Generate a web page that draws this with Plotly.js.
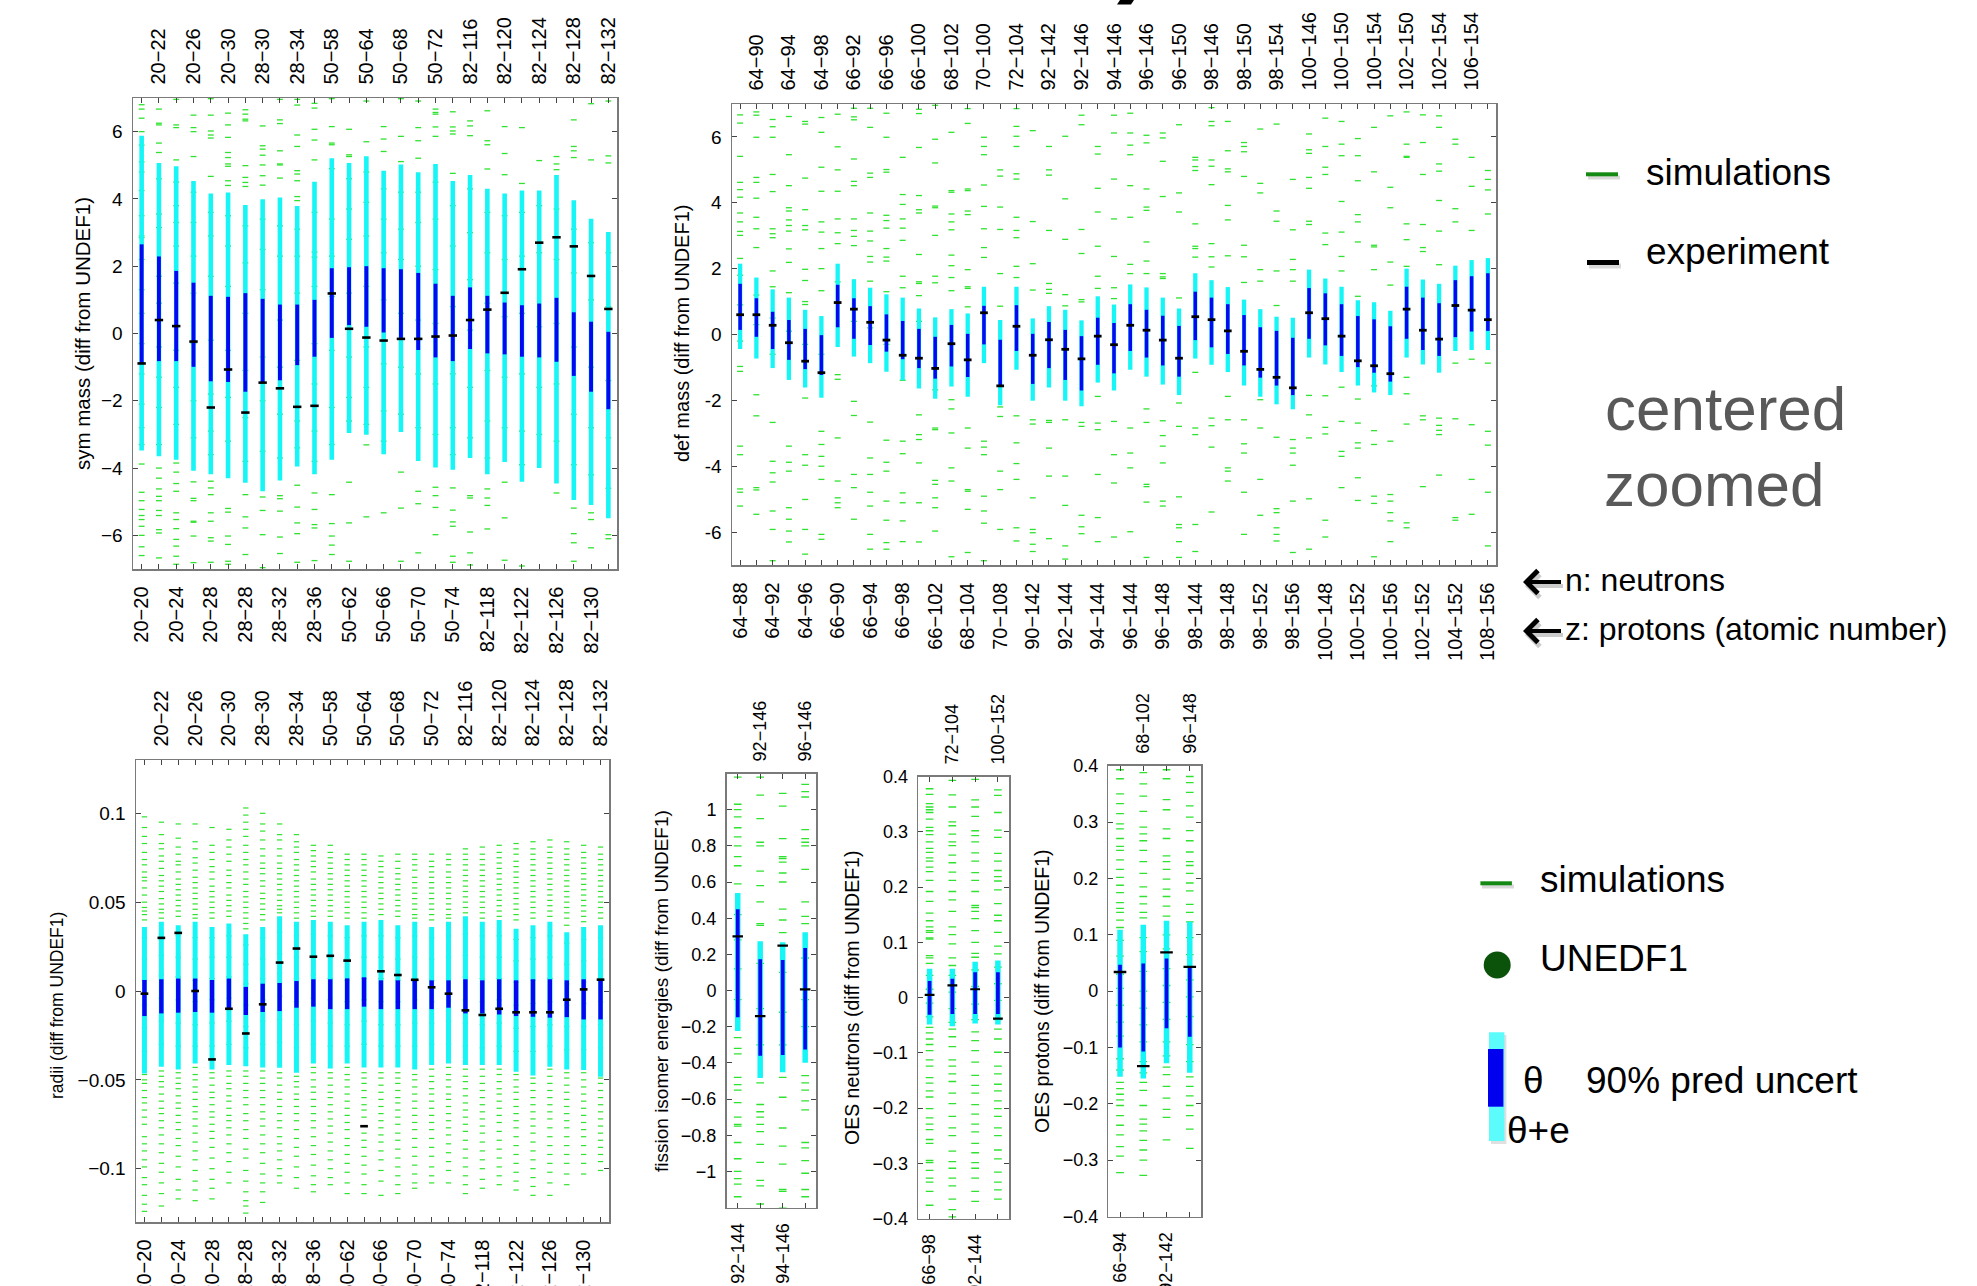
<!DOCTYPE html>
<html><head><meta charset="utf-8">
<script src="https://cdn.plot.ly/plotly-3.0.1.min.js"></script>
<style>html,body{margin:0;padding:0;background:#fff}#chart{width:1977px;height:1286px}</style>
</head><body><div id="chart"></div>
<script>
const W = 1977, H = 1286;
const FONT = 'Liberation Sans, Arial, Helvetica, sans-serif';

// ---------- sym mass (top left) ----------
const symLabels = ['20−20','20−22','20−24','20−26','20−28','20−30','28−28','28−30','28−32','28−34','28−36','50−58','50−62','50−64','50−66','50−68','50−70','50−72','50−74','82−116','82−118','82−120','82−122','82−124','82−126','82−128','82−130','82−132'];
const symCyanHi = [5.88,5.07,4.97,4.53,4.16,4.19,3.82,3.99,4.04,3.79,4.51,5.21,5.07,5.27,4.84,5.02,4.79,5.04,4.53,4.71,4.30,4.16,4.25,4.25,4.71,3.96,3.41,3.02];
const symBlueHi = [2.65,2.29,1.86,1.51,1.12,1.09,1.20,1.03,0.86,0.86,1.00,1.94,1.97,2.00,1.94,1.91,1.80,1.48,1.12,1.37,1.12,0.92,0.84,0.89,1.06,0.63,0.35,0.05];
const symBlueLo = [-0.91,-0.82,-0.82,-0.99,-1.42,-1.44,-1.73,-1.46,-1.39,-0.94,-0.69,-0.13,0.25,0.20,0.03,-0.13,-0.49,-0.71,-0.82,-0.46,-0.59,-0.62,-0.69,-0.71,-0.84,-1.26,-1.73,-2.25];
const symCyanLo = [-3.48,-3.65,-3.75,-4.08,-4.18,-4.30,-4.44,-4.69,-4.37,-3.95,-4.18,-3.75,-2.96,-3.01,-3.59,-2.93,-3.79,-3.98,-4.05,-3.70,-4.18,-3.82,-4.41,-4.00,-4.46,-4.95,-5.10,-5.49];
const symExp = [-0.89,0.40,0.22,-0.24,-2.20,-1.07,-2.35,-1.46,-1.63,-2.18,-2.15,1.19,0.14,-0.12,-0.21,-0.16,-0.16,-0.09,-0.06,0.40,0.71,1.21,1.91,2.70,2.86,2.59,1.71,0.73];
const symSims = [
 [6.80,6.67,6.40,6.00,5.60,5.10,4.80,4.25,3.50,2.90,2.85,2.20,1.30,0.60,-0.30,-1.20,-2.10,-2.80,-3.30,-3.88,-4.72,-4.97,-5.23,-5.41,-5.53,-5.73,-6.00,-6.34,-6.60],
 [6.67,6.25,6.20,5.66,5.38,4.60,3.55,3.15,1.70,0.90,-0.40,-1.30,-2.20,-3.30,-4.00,-4.30,-4.62,-4.84,-4.97,-5.26,-5.41,-5.83,-5.93,-6.67],
 [6.96,6.20,6.12,5.16,4.50,3.80,3.30,2.60,1.50,-0.50,-1.60,-2.70,-3.85,-4.12,-4.46,-4.69,-5.33,-5.53,-5.80,-6.12,-6.32,-6.62,-6.86],
 [6.49,6.12,6.00,5.26,4.20,3.30,2.30,1.20,-0.30,-2.00,-3.10,-4.41,-4.90,-4.97,-5.58,-5.61,-6.02,-6.81],
 [6.98,6.49,6.02,5.90,5.81,4.67,3.60,2.90,1.70,-0.20,-1.80,-2.90,-3.60,-4.39,-4.59,-4.79,-5.33,-5.58,-6.07,-6.17,-6.80],
 [6.55,6.20,5.83,5.38,5.23,5.04,4.97,4.54,4.40,3.50,2.60,1.40,-0.50,-1.90,-3.20,-5.20,-5.31,-6.02,-6.27,-6.77,-6.86],
 [6.65,6.52,6.37,6.32,4.99,4.64,4.49,4.37,3.20,2.10,0.60,-1.10,-2.50,-3.80,-4.79,-5.45,-5.78,-6.57],
 [6.17,5.58,5.48,5.30,5.01,4.69,4.41,3.40,2.50,1.30,-0.70,-2.00,-3.50,-4.86,-5.26,-5.98,-6.96],
 [6.96,6.35,6.24,5.43,5.04,5.01,4.62,3.20,2.30,0.40,-1.00,-2.40,-3.70,-4.82,-4.91,-5.28,-6.05,-6.54],
 [6.96,6.79,5.90,5.56,4.84,4.74,4.54,4.07,3.95,3.10,2.30,1.20,-0.80,-2.60,-3.40,-4.51,-5.16,-5.63,-5.95,-6.80],
 [6.84,6.70,6.07,5.75,5.16,3.60,2.42,2.27,1.40,-0.30,-1.50,-2.90,-3.80,-4.74,-5.23,-5.68,-5.78,-6.75],
 [6.98,6.15,5.66,5.61,4.90,3.40,2.30,1.10,-0.50,-2.20,-3.30,-4.79,-5.65,-6.02,-6.29,-6.57],
 [6.07,5.31,5.26,4.60,3.70,2.80,1.20,-0.70,-1.90,-2.60,-4.42,-5.63,-6.77],
 [6.91,5.70,4.80,3.90,2.90,1.40,-0.40,-1.60,-2.70,-3.31,-5.45],
 [6.15,5.78,5.41,4.30,3.40,2.40,1.00,-0.90,-2.30,-3.20,-5.33],
 [6.98,5.86,5.11,4.20,3.10,2.20,0.60,-1.00,-2.40,-4.12,-5.19,-6.77],
 [6.91,6.12,5.73,5.21,4.20,3.30,2.00,0.40,-1.20,-2.80,-4.69,-5.06,-6.52],
 [6.67,6.57,6.52,6.14,5.86,4.50,3.40,1.90,0.30,-1.50,-3.00,-4.57,-4.82,-5.17,-5.98],
 [6.59,6.14,6.02,5.93,4.76,3.80,2.60,0.80,-1.20,-2.80,-3.60,-4.59,-5.25,-5.60,-5.73,-6.62,-6.80],
 [6.32,6.17,5.88,4.30,3.00,1.60,0.10,-1.60,-3.10,-4.82,-4.89,-5.90,-6.52,-6.88],
 [6.62,5.73,5.61,4.89,3.60,2.40,0.90,-1.10,-2.60,-3.70,-4.62,-4.89,-5.11,-5.81],
 [6.15,5.35,4.72,3.50,2.20,0.50,-1.30,-2.80,-4.42,-5.48,-6.74],
 [6.12,4.46,3.60,2.30,0.60,-1.20,-2.90,-3.90,-6.91],
 [5.14,3.80,2.40,0.20,-1.60,-3.00],
 [5.26,5.04,4.87,3.70,2.20,0.30,-1.50,-3.20,-4.74],
 [6.35,5.56,5.43,5.23,3.10,1.80,-0.40,-2.40,-3.90,-5.19,-5.95,-6.22,-6.77],
 [6.83,5.16,2.70,1.00,-1.00,-2.80,-4.20,-5.33,-5.53,-6.37],
 [6.91,5.28,5.07,2.40,0.80,-1.40,-3.10,-4.60,-5.98,-6.10]
];

// ---------- def mass (top middle) ----------
const defLabels = ['64−88','64−90','64−92','64−94','64−96','64−98','66−90','66−92','66−94','66−96','66−98','66−100','66−102','68−102','68−104','70−100','70−108','72−104','90−142','92−142','92−144','92−146','94−144','94−146','96−144','96−146','96−148','96−150','98−144','98−146','98−148','98−150','98−152','98−154','98−156','100−146','100−148','100−150','100−152','100−154','100−156','102−150','102−152','102−154','104−152','106−154','108−156'];
const defCyanHi = [2.15,1.73,1.37,1.12,0.75,0.56,2.15,1.68,1.42,1.22,1.12,0.79,0.52,0.77,0.64,1.45,0.44,1.45,0.49,0.86,0.75,0.43,1.16,0.91,1.52,1.43,1.12,0.79,1.86,1.65,1.44,1.06,0.77,0.54,0.51,1.97,1.70,1.45,1.04,0.98,0.72,2.00,1.67,1.54,2.09,2.26,2.32];
const defBlueHi = [1.54,1.10,0.69,0.44,0.17,-0.02,1.51,1.10,0.86,0.61,0.41,0.17,-0.07,0.29,0.02,0.87,-0.16,0.89,0.02,0.38,0.14,-0.05,0.51,0.35,0.92,0.75,0.57,0.26,1.30,1.12,0.92,0.59,0.22,0.11,-0.10,1.41,1.25,0.92,0.56,0.46,0.25,1.45,1.12,0.95,1.65,1.77,1.86];
const defBlueLo = [0.14,-0.07,-0.44,-0.77,-1.05,-1.23,0.22,-0.13,-0.32,-0.52,-0.75,-1.02,-1.34,-0.97,-1.29,-0.30,-1.58,-0.50,-1.50,-1.02,-1.38,-1.70,-0.92,-1.18,-0.50,-0.70,-0.94,-1.28,-0.17,-0.39,-0.59,-0.94,-1.31,-1.55,-1.84,-0.13,-0.33,-0.65,-0.99,-1.16,-1.43,-0.13,-0.47,-0.65,-0.08,0.09,0.11];
const defCyanLo = [-0.44,-0.73,-1.02,-1.38,-1.61,-1.92,-0.38,-0.67,-0.87,-1.13,-1.39,-1.64,-1.95,-1.58,-1.89,-0.87,-2.15,-1.07,-2.01,-1.61,-2.01,-2.18,-1.46,-1.70,-1.07,-1.28,-1.52,-1.84,-0.73,-0.92,-1.14,-1.55,-1.89,-2.12,-2.27,-0.70,-0.91,-1.14,-1.55,-1.76,-1.84,-0.70,-0.91,-1.16,-0.50,-0.47,-0.47];
const defExp = [0.60,0.60,0.28,-0.25,-0.81,-1.16,0.97,0.77,0.37,-0.17,-0.63,-0.72,-1.03,-0.28,-0.77,0.66,-1.56,0.25,-0.63,-0.16,-0.45,-0.74,-0.05,-0.31,0.28,0.13,-0.17,-0.72,0.54,0.45,0.11,-0.51,-1.06,-1.30,-1.62,0.66,0.48,-0.05,-0.80,-0.95,-1.19,0.77,0.13,-0.14,0.88,0.74,0.45];
const defSims = [
 [6.67,6.42,5.41,4.62,4.40,4.17,3.69,3.42,3.13,3.01,2.31,1.80,0.90,-0.20,-0.97,-1.12,-3.39,-3.65,-4.69,-4.79,-5.21],
 [6.76,6.66,5.99,4.77,4.62,4.14,3.56,3.21,2.64,1.20,0.30,-1.83,-2.47,-4.65,-4.72,-5.46],
 [6.53,6.31,5.99,4.86,4.34,3.21,3.06,2.94,1.93,1.45,0.50,-0.60,-2.67,-3.85,-4.20,-4.48,-5.36,-5.92,-6.87],
 [6.62,5.46,4.52,3.85,3.75,3.48,3.31,3.14,2.60,2.19,1.27,0.10,-3.39,-3.88,-4.15,-5.26,-5.61,-5.97,-6.30],
 [6.47,6.39,4.75,3.79,3.31,3.18,1.98,1.64,1.00,0.91,-0.30,-1.93,-3.65,-3.97,-5.01,-5.92,-6.67],
 [6.59,6.14,5.08,4.35,3.42,3.11,2.61,2.00,1.33,-0.60,-2.94,-3.34,-3.70,-4.00,-4.40,-6.07,-6.22],
 [6.69,5.70,5.00,4.35,3.51,3.09,2.76,1.60,-1.22,-1.36,-3.14,-4.45,-4.96,-5.11,-5.26],
 [6.87,6.61,6.52,5.33,4.65,4.52,3.51,3.16,2.98,2.70,0.40,-2.03,-2.46,-4.25,-4.65,-5.61],
 [6.87,6.29,4.90,4.77,3.69,3.14,2.84,2.37,2.20,1.62,0.20,-2.66,-3.75,-4.25,-4.79,-5.21,-6.07,-6.52],
 [6.72,5.99,5.01,4.93,3.62,3.46,3.23,2.61,2.35,2.23,1.30,-0.30,-3.21,-3.88,-4.15,-5.06,-5.64,-6.32,-6.52],
 [5.38,4.25,3.95,3.51,3.23,2.86,1.77,1.42,-1.39,-3.24,-3.62,-4.81,-5.11,-5.66,-6.29],
 [6.84,6.71,5.68,4.22,3.79,3.69,2.43,1.60,1.55,1.18,0.40,-2.44,-3.04,-3.19,-3.90,-5.11,-6.30],
 [6.96,5.93,5.21,3.90,3.85,3.01,1.77,1.57,-1.68,-2.84,-2.89,-4.43,-4.55,-4.96,-5.26,-5.97],
 [6.14,4.37,4.32,3.66,3.42,3.18,2.41,2.09,1.73,1.33,-1.98,-2.26,-2.99,-4.05,-4.45,-6.75],
 [6.86,6.41,4.42,4.37,3.75,3.64,1.97,1.45,1.40,0.84,-2.84,-3.45,-4.71,-4.76,-5.31,-6.62],
 [5.99,5.71,5.46,4.54,3.89,3.21,2.64,2.34,-3.24,-3.42,-3.65,-4.91,-5.36,-5.73,-6.87],
 [5.00,4.81,3.87,3.19,1.85,0.86,-2.20,-2.49,-4.15,-4.71,-5.92],
 [6.86,6.32,6.02,5.71,4.88,4.72,3.56,3.16,2.94,2.07,1.73,-2.47,-3.29,-3.92,-4.40,-5.87,-6.27],
 [6.19,3.43,2.15,1.35,-2.59,-2.72,-4.96,-5.92,-6.02,-6.37,-6.59],
 [5.71,5.00,4.84,3.16,1.55,1.37,1.25,-2.61,-2.67,-3.45,-4.30,-6.20],
 [6.02,4.12,2.89,1.21,0.87,-2.59,-4.30,-5.19,-6.42,-6.82],
 [6.66,6.37,3.19,2.46,1.06,0.99,-2.67,-2.79,-5.49,-5.84,-6.05],
 [5.71,5.48,4.44,3.72,2.68,1.77,1.40,-1.88,-2.69,-2.89,-4.25,-5.56,-6.29],
 [6.66,6.12,4.72,3.51,2.37,1.42,1.09,-2.64,-3.65,-4.51,-6.15],
 [6.72,6.12,5.75,5.46,4.52,3.56,2.13,1.85,-2.84,-3.60,-4.05,-5.99],
 [6.05,5.82,4.42,3.87,3.77,2.81,2.23,1.85,-2.26,-2.67,-4.55,-4.62,-5.09,-6.77],
 [6.12,5.97,5.26,4.19,1.85,1.75,1.70,-2.62,-3.07,-3.39,-3.90,-5.06,-5.21],
 [6.37,4.30,3.72,1.11,-2.08,-2.79,-4.93,-5.77,-5.87,-6.29,-6.77],
 [5.38,5.30,5.10,4.98,3.36,2.68,2.61,2.35,-1.15,-2.84,-3.04,-5.77,-6.59],
 [6.89,6.47,6.34,5.30,5.11,4.55,2.76,2.36,2.05,-2.54,-2.77,-3.42,-5.39],
 [6.47,5.58,5.03,4.94,3.92,3.48,2.39,-1.88,-2.59,-4.05,-4.15,-4.45],
 [5.83,5.71,5.55,4.80,2.71,2.36,1.58,-2.59,-3.32,-3.60,-4.79,-6.07],
 [6.24,4.59,4.30,1.97,1.62,-1.98,-2.84,-4.40,-5.49],
 [6.39,3.75,3.44,1.93,0.88,-3.12,-5.29,-5.41,-5.87,-6.07,-6.27],
 [4.71,3.18,2.28,1.97,1.62,-3.19,-3.45,-3.60,-3.97,-5.06,-6.62],
 [6.09,5.61,5.50,4.77,4.44,3.44,3.34,-1.85,-2.44,-3.14,-4.99,-6.52],
 [6.57,5.71,5.08,4.86,3.08,2.73,-1.86,-2.82,-3.02,-5.64,-6.15],
 [6.47,5.78,5.43,4.04,3.11,2.37,1.93,-1.60,-2.64,-3.55,-3.70,-4.65],
 [5.95,5.43,4.67,3.64,3.42,2.81,1.16,-1.96,-2.69,-3.29,-3.45,-4.35,-5.04],
 [6.29,4.94,2.71,2.66,1.97,-1.56,-2.92,-3.34,-4.91,-5.13,-6.75],
 [6.64,4.47,3.85,2.20,1.50,-3.24,-4.86,-5.06,-5.41,-5.66,-6.29],
 [6.76,5.78,5.41,5.38,3.36,2.88,2.07,-1.30,-1.80,-2.72,-5.72,-5.87],
 [6.67,5.83,4.86,3.34,2.64,2.52,-2.47,-2.59,-4.62],
 [6.64,6.29,5.18,4.96,4.07,3.14,2.12,-2.54,-2.76,-2.91,-3.04,-4.27],
 [5.93,5.78,3.82,3.42,-0.87,-2.56,-5.56,-5.64],
 [5.38,4.50,3.16,-0.75,-2.74,-4.40,-5.46],
 [4.98,4.71,4.39,3.66,-0.87,-2.94,-3.36,-4.79,-6.42]
];

// ---------- radii (bottom left) ----------
const radLabels = symLabels.slice();
const radCyanHi = [0.036,0.039,0.037,0.039,0.036,0.038,0.032,0.036,0.042,0.039,0.040,0.039,0.037,0.039,0.040,0.037,0.039,0.036,0.039,0.042,0.039,0.040,0.035,0.037,0.039,0.033,0.036,0.037];
const radBlueHi = [0.0062,0.0066,0.0070,0.0070,0.0062,0.0070,0.0023,0.0041,0.0045,0.0056,0.0066,0.0066,0.0071,0.0077,0.0060,0.0060,0.0066,0.0060,0.0060,0.0066,0.0060,0.0066,0.0060,0.0066,0.0066,0.0060,0.0066,0.0066];
const radBlueLo = [-0.0141,-0.0126,-0.0122,-0.0118,-0.0122,-0.0103,-0.0135,-0.0118,-0.0113,-0.0094,-0.0088,-0.0102,-0.0102,-0.0088,-0.0102,-0.0102,-0.0102,-0.0102,-0.0094,-0.0126,-0.0126,-0.0132,-0.0141,-0.0145,-0.0150,-0.0147,-0.0160,-0.0160];
const radCyanLo = [-0.0464,-0.0427,-0.0442,-0.0408,-0.0442,-0.0417,-0.0423,-0.0430,-0.0432,-0.0460,-0.0408,-0.0436,-0.0408,-0.0430,-0.0430,-0.0430,-0.0442,-0.0417,-0.0408,-0.0417,-0.0417,-0.0417,-0.0455,-0.0476,-0.0427,-0.0442,-0.0445,-0.0483];
const radExp = [-0.0015,0.0299,0.0327,0.0000,-0.0385,-0.0100,-0.0239,-0.0075,0.0160,0.0239,0.0193,0.0198,0.0171,-0.0761,0.0111,0.0090,0.0063,0.0021,-0.0015,-0.0109,-0.0135,-0.0100,-0.0120,-0.0120,-0.0120,-0.0049,0.0009,0.0064];
const radSims = [
 [.098,.092,.087,.083,.078,.074,.071,.067,.064,.062,.058,.054,.050,.047,.045,.043,.040,.030,.018,.006,-.008,-.021,-.034,-.047,-.050,-.052,-.056,-.060,-.063,-.067,-.071,-.075,-.082,-.086,-.090,-.095,-.099,-.105,-.109,-.115,-.120,-.124],
 [.095,.088,.083,.080,.076,.073,.069,.065,.062,.059,.056,.052,.049,.046,.044,.041,.032,.020,.009,-.004,-.017,-.030,-.045,-.048,-.051,-.054,-.058,-.062,-.066,-.069,-.073,-.077,-.081,-.086,-.091,-.097,-.102,-.108,-.114,-.121],
 [.094,.086,.081,.077,.073,.071,.067,.063,.060,.057,.054,.051,.048,.045,.042,.031,.019,.008,-.005,-.018,-.031,-.046,-.049,-.052,-.055,-.059,-.063,-.066,-.070,-.074,-.078,-.083,-.087,-.093,-.099,-.106,-.112,-.117],
 [.094,.084,.080,.075,.072,.068,.064,.061,.058,.055,.052,.049,.046,.043,.041,.030,.018,.006,-.006,-.019,-.031,-.043,-.047,-.050,-.054,-.057,-.061,-.065,-.068,-.072,-.076,-.080,-.085,-.090,-.095,-.101,-.107,-.112,-.118],
 [.092,.082,.078,.074,.070,.067,.063,.059,.056,.053,.050,.047,.044,.041,.030,.019,.007,-.005,-.018,-.031,-.046,-.049,-.053,-.057,-.060,-.064,-.068,-.071,-.075,-.079,-.083,-.088,-.094,-.100,-.106,-.111,-.117],
 [.091,.085,.081,.077,.073,.068,.065,.061,.058,.054,.051,.048,.045,.042,.031,.019,.008,-.004,-.017,-.030,-.045,-.048,-.052,-.055,-.059,-.062,-.066,-.070,-.073,-.077,-.081,-.086,-.091,-.096,-.102,-.108],
 [.103,.099,.095,.091,.087,.082,.078,.074,.071,.067,.063,.060,.056,.053,.050,.047,.044,.041,.038,.035,.026,.015,.004,-.008,-.020,-.032,-.045,-.048,-.052,-.056,-.060,-.064,-.069,-.073,-.078,-.083,-.089,-.094,-.101,-.107,-.113,-.118,-.121,-.125],
 [.100,.094,.090,.085,.080,.076,.072,.069,.066,.062,.059,.055,.052,.049,.046,.043,.040,.030,.018,.007,-.005,-.017,-.030,-.045,-.049,-.052,-.056,-.060,-.064,-.068,-.072,-.076,-.081,-.086,-.091,-.097,-.103,-.108,-.113,-.119],
 [.094,.088,.085,.080,.076,.072,.069,.066,.063,.060,.057,.054,.051,.048,.046,.044,.033,.021,.010,-.003,-.016,-.029,-.046,-.049,-.053,-.057,-.061,-.065,-.069,-.073,-.077,-.082,-.086,-.090,-.095,-.100,-.104,-.108],
 [.088,.084,.081,.078,.074,.071,.068,.065,.062,.059,.056,.053,.050,.047,.044,.041,.031,.019,.007,-.006,-.019,-.032,-.048,-.051,-.054,-.058,-.061,-.065,-.069,-.073,-.078,-.083,-.088,-.093,-.099,-.105,-.111],
 [.082,.079,.076,.073,.070,.067,.063,.060,.057,.054,.051,.048,.045,.042,.032,.020,.009,-.004,-.017,-.030,-.043,-.046,-.050,-.054,-.057,-.061,-.065,-.069,-.073,-.077,-.082,-.087,-.092,-.098,-.104,-.109,-.113],
 [.082,.078,.075,.072,.069,.066,.063,.060,.057,.054,.051,.048,.045,.042,.031,.019,.007,-.005,-.018,-.031,-.046,-.049,-.053,-.057,-.060,-.064,-.068,-.072,-.076,-.080,-.085,-.090,-.095,-.100,-.105,-.109],
 [.077,.074,.071,.068,.065,.062,.059,.056,.053,.050,.047,.044,.041,.030,.018,.006,-.006,-.019,-.031,-.043,-.047,-.050,-.054,-.058,-.062,-.066,-.070,-.074,-.078,-.083,-.087,-.092,-.097,-.102,-.108,-.114],
 [.077,.074,.071,.068,.065,.062,.059,.056,.053,.050,.047,.044,.041,.031,.019,.007,-.005,-.017,-.030,-.046,-.049,-.052,-.056,-.060,-.064,-.067,-.071,-.076,-.080,-.084,-.088,-.093,-.098,-.103,-.109,-.114],
 [.076,.073,.070,.067,.064,.061,.058,.055,.052,.049,.046,.043,.031,.019,.007,-.006,-.019,-.031,-.046,-.049,-.053,-.057,-.061,-.065,-.069,-.073,-.077,-.081,-.085,-.090,-.095,-.101,-.107,-.115],
 [.077,.073,.069,.066,.063,.060,.057,.054,.051,.048,.045,.042,.030,.018,.006,-.006,-.019,-.031,-.046,-.049,-.052,-.056,-.060,-.063,-.067,-.071,-.075,-.080,-.084,-.089,-.094,-.099,-.104,-.109,-.114],
 [.077,.074,.071,.068,.064,.061,.058,.055,.052,.049,.046,.043,.041,.031,.019,.007,-.005,-.018,-.031,-.047,-.050,-.054,-.058,-.062,-.066,-.070,-.074,-.078,-.083,-.088,-.093,-.098,-.103,-.108,-.111],
 [.077,.073,.070,.067,.064,.061,.058,.055,.052,.049,.046,.043,.040,.030,.018,.006,-.006,-.018,-.030,-.044,-.048,-.051,-.055,-.058,-.062,-.066,-.070,-.074,-.078,-.083,-.088,-.093,-.099,-.104,-.108],
 [.077,.074,.071,.067,.064,.061,.058,.055,.052,.049,.046,.043,.041,.031,.019,.007,-.005,-.017,-.030,-.043,-.047,-.050,-.054,-.058,-.061,-.065,-.069,-.073,-.077,-.081,-.086,-.091,-.096,-.101,-.108],
 [.080,.077,.074,.071,.068,.065,.062,.059,.056,.053,.050,.047,.044,.032,.020,.008,-.005,-.018,-.031,-.044,-.048,-.051,-.055,-.059,-.063,-.067,-.071,-.075,-.079,-.084,-.089,-.094,-.099,-.104,-.109,-.114],
 [.081,.077,.074,.071,.068,.065,.062,.059,.056,.053,.050,.047,.044,.041,.031,.019,.007,-.006,-.019,-.032,-.044,-.048,-.052,-.056,-.060,-.064,-.068,-.072,-.076,-.080,-.085,-.090,-.095,-.100,-.106,-.111],
 [.082,.078,.075,.072,.069,.066,.063,.060,.057,.054,.051,.048,.045,.042,.031,.019,.007,-.005,-.018,-.031,-.044,-.047,-.051,-.055,-.058,-.062,-.066,-.070,-.074,-.079,-.084,-.089,-.094,-.099,-.104,-.109],
 [.083,.080,.077,.073,.070,.067,.064,.061,.058,.055,.052,.049,.046,.043,.040,.029,.017,.005,-.008,-.021,-.034,-.047,-.050,-.054,-.057,-.061,-.065,-.069,-.073,-.077,-.082,-.087,-.092,-.097,-.102,-.107,-.112],
 [.084,.080,.077,.074,.071,.068,.065,.062,.059,.056,.053,.050,.047,.044,.041,.030,.018,.006,-.007,-.020,-.034,-.049,-.052,-.056,-.060,-.064,-.068,-.072,-.076,-.080,-.085,-.090,-.095,-.100,-.105,-.110,-.115],
 [.085,.081,.078,.075,.072,.069,.066,.063,.060,.057,.054,.051,.048,.045,.042,.031,.019,.007,-.006,-.019,-.031,-.044,-.048,-.052,-.056,-.060,-.064,-.068,-.072,-.077,-.082,-.087,-.092,-.097,-.102,-.108,-.115],
 [.084,.080,.077,.074,.071,.068,.065,.062,.059,.056,.053,.050,.047,.044,.041,.037,.027,.015,.004,-.008,-.020,-.033,-.046,-.049,-.053,-.057,-.061,-.065,-.069,-.073,-.077,-.082,-.087,-.092,-.097,-.103,-.109],
 [.082,.078,.075,.072,.069,.066,.063,.060,.057,.054,.051,.048,.045,.042,.039,.029,.017,.005,-.007,-.020,-.033,-.046,-.050,-.054,-.058,-.062,-.066,-.070,-.074,-.078,-.082,-.087,-.092,-.097,-.103],
 [.081,.077,.074,.071,.068,.065,.062,.059,.056,.053,.050,.047,.044,.041,.030,.018,.006,-.006,-.019,-.032,-.049,-.052,-.056,-.060,-.064,-.068,-.072,-.076,-.080,-.084,-.088,-.092,-.096,-.101]
];

// ---------- fission isomer energies ----------
const fisLabels = ['92−144','92−146','94−146','96−146'];
const fisCyanHi = [0.54,0.273,0.267,0.322];
const fisBlueHi = [0.45,0.173,0.169,0.235];
const fisBlueLo = [-0.147,-0.361,-0.356,-0.326];
const fisCyanLo = [-0.224,-0.484,-0.452,-0.399];
const fisExp = [0.30,-0.141,0.248,0.006];
const fisSims = [
 [1.18,1.03,1.00,0.96,0.90,0.85,0.80,0.74,0.69,0.59,0.42,0.28,0.12,-0.05,-0.26,-0.32,-0.35,-0.48,-0.52,-0.55,-0.62,-0.70,-0.74,-0.75,-0.84,-0.93,-1.00,-1.04,-1.07,-1.14],
 [1.18,1.08,0.95,0.82,0.80,0.66,0.58,0.49,0.37,0.36,0.15,-0.10,-0.30,-0.51,-0.63,-0.67,-0.70,-0.74,-0.78,-0.85,-0.95,-1.05,-1.08,-1.18],
 [1.09,1.02,0.84,0.74,0.73,0.71,0.65,0.60,0.45,0.39,0.32,0.10,-0.12,-0.30,-0.48,-0.59,-0.76,-0.86,-0.96,-1.10,-1.11,-1.20],
 [1.14,1.10,1.07,0.89,0.84,0.82,0.80,0.67,0.49,0.41,0.37,0.18,-0.05,-0.20,-0.47,-0.51,-0.55,-0.61,-0.66,-0.84,-0.87,-0.94,-1.01,-1.10,-1.14]
];

// ---------- OES neutrons ----------
const oesnLabels = ['66−98','72−104','92−144','100−152'];
const oesnCyanHi = [0.052,0.052,0.065,0.067];
const oesnBlueHi = [0.030,0.034,0.046,0.046];
const oesnBlueLo = [-0.031,-0.030,-0.030,-0.030];
const oesnCyanLo = [-0.049,-0.052,-0.047,-0.049];
const oesnExp = [0.005,0.022,0.015,-0.038];
const oesnSims = [
 [0.378,0.368,0.351,0.345,0.340,0.335,0.323,0.308,0.302,0.295,0.282,0.270,0.263,0.253,0.247,0.236,0.228,0.212,0.192,0.174,0.153,0.139,0.128,0.121,0.118,0.108,0.106,0.076,0.072,0.062,0.040,0.015,-0.010,-0.035,-0.054,-0.064,-0.075,-0.085,-0.096,-0.113,-0.124,-0.145,-0.155,-0.169,-0.180,-0.201,-0.218,-0.229,-0.239,-0.257,-0.264,-0.295,-0.299,-0.313,-0.327,-0.334,-0.351,-0.376],
 [0.393,0.367,0.345,0.318,0.311,0.296,0.282,0.275,0.258,0.244,0.227,0.212,0.192,0.177,0.156,0.128,0.114,0.097,0.072,0.058,0.040,0.010,-0.020,-0.045,-0.057,-0.071,-0.089,-0.113,-0.124,-0.138,-0.152,-0.173,-0.192,-0.215,-0.236,-0.250,-0.278,-0.297,-0.309,-0.327,-0.341,-0.365,-0.384,-0.397],
 [0.395,0.358,0.345,0.328,0.302,0.293,0.282,0.262,0.247,0.226,0.212,0.192,0.167,0.163,0.156,0.143,0.121,0.100,0.080,0.073,0.050,0.020,-0.012,-0.040,-0.062,-0.078,-0.096,-0.117,-0.141,-0.159,-0.173,-0.194,-0.211,-0.229,-0.243,-0.264,-0.281,-0.299,-0.309,-0.327,-0.351,-0.369],
 [0.376,0.366,0.335,0.303,0.290,0.261,0.247,0.230,0.219,0.211,0.195,0.170,0.149,0.139,0.118,0.093,0.079,0.055,0.025,-0.005,-0.040,-0.057,-0.075,-0.099,-0.124,-0.138,-0.157,-0.169,-0.187,-0.201,-0.215,-0.236,-0.250,-0.276,-0.292,-0.316,-0.334,-0.348,-0.365]
];

// ---------- OES protons ----------
const oespLabels = ['66−94','68−102','92−142','96−148'];
const oespCyanHi = [0.109,0.118,0.125,0.123];
const oespBlueHi = [0.047,0.049,0.058,0.043];
const oespBlueLo = [-0.100,-0.107,-0.066,-0.081];
const oespCyanLo = [-0.152,-0.155,-0.128,-0.145];
const oespExp = [0.034,-0.133,0.069,0.043];
const oespSims = [
 [0.393,0.377,0.350,0.333,0.315,0.297,0.288,0.271,0.257,0.250,0.233,0.216,0.202,0.188,0.175,0.157,0.147,0.140,0.126,0.113,0.090,0.062,0.030,0.005,-0.025,-0.055,-0.080,-0.120,-0.140,-0.162,-0.173,-0.183,-0.193,-0.203,-0.221,-0.238,-0.255,-0.276,-0.293,-0.322],
 [0.388,0.368,0.346,0.319,0.291,0.279,0.267,0.250,0.230,0.209,0.185,0.168,0.155,0.140,0.130,0.095,0.070,0.035,0.000,-0.030,-0.060,-0.090,-0.125,-0.145,-0.162,-0.176,-0.203,-0.227,-0.236,-0.248,-0.265,-0.282,-0.300,-0.327],
 [0.393,0.377,0.340,0.322,0.288,0.271,0.240,0.230,0.216,0.199,0.181,0.168,0.151,0.133,0.100,0.075,0.040,0.010,-0.020,-0.050,-0.090,-0.115,-0.135,-0.148,-0.169,-0.190,-0.210,-0.224,-0.264],
 [0.381,0.370,0.353,0.329,0.309,0.285,0.267,0.247,0.230,0.223,0.209,0.192,0.178,0.154,0.140,0.123,0.095,0.065,0.020,-0.010,-0.045,-0.095,-0.125,-0.152,-0.169,-0.186,-0.203,-0.221,-0.245,-0.279]
];

// ---------- tick labels ----------
const ticksBig = [-6,-4,-2,0,2,4,6];
const ticksBigTextMinus = ['−6','−4','−2','0','2','4','6'];
const ticksBigTextHyphen = ['-6','-4','-2','0','2','4','6'];
const ticksRad = [-0.1,-0.05,0,0.05,0.1];
const ticksRadText = ['−0.1','−0.05','0','0.05','0.1'];
const ticksFis = [-1,-0.8,-0.6,-0.4,-0.2,0,0.2,0.4,0.6,0.8,1];
const ticksFisText = ['−1','−0.8','−0.6','−0.4','−0.2','0','0.2','0.4','0.6','0.8','1'];
const ticksOes = [-0.4,-0.3,-0.2,-0.1,0,0.1,0.2,0.3,0.4];
const ticksOesText = ['−0.4','−0.3','−0.2','−0.1','0','0.1','0.2','0.3','0.4'];

// ---------- build ----------
const CYAN = '#16f6f6', BLUE = '#0606f2', GREEN = '#2fe22f';
const traces = [];
const layout = {
  width: W, height: H, margin: {l:0, r:0, t:0, b:0},
  paper_bgcolor: '#ffffff', plot_bgcolor: '#ffffff',
  showlegend: false, font: {family: FONT, color: '#000'},
  annotations: [], shapes: []
};
function axKey(c, n) { return n === 1 ? c + 'axis' : c + 'axis' + n; }
function PX(x) { return x / W; }
function PY(y) { return 1 - y / H; }

function addPanel(k, p) {
  const nb = 2*k + 1, nt = 2*k + 2, ny = k + 1;
  const xb = nb === 1 ? 'x' : 'x' + nb, xt = 'x' + nt, yy = ny === 1 ? 'y' : 'y' + ny;
  const N = p.labels.length;
  const idx = p.labels.map((_, i) => i);
  const sx = [], sy = [];
  p.sims.forEach((col, i) => col.forEach(v => { sx.push(i); sy.push(v); }));
  traces.push({type:'scatter', mode:'markers', x:sx, y:sy, xaxis:xb, yaxis:yy, hoverinfo:'skip',
    marker:{symbol:'line-ew', size:p.ss, color:GREEN, line:{color:GREEN, width:p.sw}}});
  function seg(lo, hi, color, w) {
    const x = [], y = [];
    idx.forEach(i => { x.push(i, i, null); y.push(lo[i], hi[i], null); });
    traces.push({type:'scatter', mode:'lines', x:x, y:y, xaxis:xb, yaxis:yy, hoverinfo:'skip',
      line:{color:color, width:w}});
  }
  seg(p.cyanLo, p.cyanHi, CYAN, p.cw);
  seg(p.blueLo, p.blueHi, BLUE, p.bw);
  traces.push({type:'scatter', mode:'markers', x:idx, y:p.exp, xaxis:xb, yaxis:yy, hoverinfo:'skip',
    marker:{symbol:'line-ew', size:p.es, color:'#000', line:{color:'#000', width:p.ew}}});
  traces.push({type:'scatter', mode:'markers', x:[0], y:[p.yr[0]-100], xaxis:xt, yaxis:yy, hoverinfo:'skip',
    marker:{size:1, color:'rgba(0,0,0,0)'}});
  const common = {
    range:[-0.5, N-0.5], tickmode:'array', tickvals:idx, tickangle:-90,
    ticks:'inside', ticklen:5, tickwidth:1, tickcolor:'#444',
    showline:true, linecolor:'#7a7a7a', linewidth:1.5, showgrid:false, zeroline:false,
    tickfont:{family:FONT, size:p.xfs, color:'#000'}, ticklabelstandoff:p.xso, fixedrange:true
  };
  layout[axKey('x', nb)] = Object.assign({}, common, {
    domain:[PX(p.dom[0]), PX(p.dom[1])], anchor:yy, side:'bottom',
    ticktext: p.labels.map((l, i) => i % 2 === 0 ? l : '')
  });
  layout[axKey('x', nt)] = Object.assign({}, common, {
    overlaying:xb, anchor:yy, side:'top',
    ticktext: p.labels.map((l, i) => i % 2 === 1 ? l : '')
  });
  layout[axKey('y', ny)] = {
    domain:[PY(p.dom[3]), PY(p.dom[2])], anchor:xb, range:p.yr,
    tickmode:'array', tickvals:p.yt, ticktext:p.ytt,
    ticks:'inside', ticklen:5, tickwidth:1, tickcolor:'#444', mirror:'ticks',
    showline:true, linecolor:'#7a7a7a', linewidth:1.5, showgrid:false, zeroline:false,
    tickfont:{family:FONT, size:p.yfs, color:'#000'}, ticklabelstandoff:5, fixedrange:true
  };
  layout.annotations.push({xref:'paper', yref:'paper', x:PX(p.tx), y:PY(p.ty), text:p.title,
    textangle:-90, showarrow:false, xanchor:'center', yanchor:'middle',
    font:{family:FONT, size:p.tfs, color:'#000'}});
}

addPanel(0, {labels:symLabels, cyanLo:symCyanLo, cyanHi:symCyanHi, blueLo:symBlueLo, blueHi:symBlueHi, exp:symExp, sims:symSims,
  dom:[133,617,98,569], yr:[-7,7], yt:ticksBig, ytt:ticksBigTextMinus, xfs:20, yfs:19, xso:8,
  cw:4.6, bw:3.9, ss:4.2, sw:1.3, es:6, ew:2.6,
  title:'sym mass (diff from UNDEF1)', tx:82, ty:334, tfs:20.5});
addPanel(1, {labels:defLabels, cyanLo:defCyanLo, cyanHi:defCyanHi, blueLo:defBlueLo, blueHi:defBlueHi, exp:defExp, sims:defSims,
  dom:[732,1496,104,565], yr:[-7,7], yt:ticksBig, ytt:ticksBigTextHyphen, xfs:20, yfs:19, xso:8,
  cw:4.3, bw:3.5, ss:4.3, sw:1.3, es:5.5, ew:2.8,
  title:'def mass (diff from UNDEF1)', tx:682, ty:334, tfs:20});
addPanel(2, {labels:radLabels, cyanLo:radCyanLo, cyanHi:radCyanHi, blueLo:radBlueLo, blueHi:radBlueHi, exp:radExp, sims:radSims,
  dom:[136,609,760,1222], yr:[-0.13,0.13], yt:ticksRad, ytt:ticksRadText, xfs:20, yfs:19, xso:8,
  cw:5, bw:4.4, ss:3.8, sw:1.2, es:5.5, ew:2.6,
  title:'radii (diff from UNDEF1)', tx:57, ty:1006, tfs:17.5});
addPanel(3, {labels:fisLabels, cyanLo:fisCyanLo, cyanHi:fisCyanHi, blueLo:fisBlueLo, blueHi:fisBlueHi, exp:fisExp, sims:fisSims,
  dom:[726.5,816.4,773.5,1207.6], yr:[-1.2,1.2], yt:ticksFis, ytt:ticksFisText, xfs:18, yfs:18, xso:7,
  cw:5.5, bw:3.7, ss:5.5, sw:1.3, es:7.5, ew:2.2,
  title:'fission isomer energies (diff from UNDEF1)', tx:661, ty:991, tfs:19});
addPanel(4, {labels:oesnLabels, cyanLo:oesnCyanLo, cyanHi:oesnCyanHi, blueLo:oesnBlueLo, blueHi:oesnBlueHi, exp:oesnExp, sims:oesnSims,
  dom:[918.2,1009.3,776.6,1218.5], yr:[-0.4,0.4], yt:ticksOes, ytt:ticksOesText, xfs:18, yfs:18, xso:7,
  cw:5.5, bw:3.7, ss:5.5, sw:1.3, es:7, ew:2.2,
  title:'OES neutrons (diff from UNDEF1)', tx:852, ty:998, tfs:19.5});
addPanel(5, {labels:oespLabels, cyanLo:oespCyanLo, cyanHi:oespCyanHi, blueLo:oespBlueLo, blueHi:oespBlueHi, exp:oespExp, sims:oespSims,
  dom:[1108.4,1201.4,765.8,1216.5], yr:[-0.4,0.4], yt:ticksOes, ytt:ticksOesText, xfs:18, yfs:18, xso:7,
  cw:5.5, bw:3.7, ss:5.5, sw:1.3, es:9, ew:2.3,
  title:'OES protons (diff from UNDEF1)', tx:1042, ty:991, tfs:19.5});

// ---------- legend / notes (layout decoration) ----------
function hline(x0, x1, y, color, w) {
  layout.shapes.push({type:'line', xref:'paper', yref:'paper', x0:PX(x0), x1:PX(x1), y0:PY(y), y1:PY(y), line:{color:color, width:w}});
}
function rect(x0, x1, y0, y1, color) {
  layout.shapes.push({type:'rect', xref:'paper', yref:'paper', x0:PX(x0), x1:PX(x1), y0:PY(y1), y1:PY(y0), fillcolor:color, line:{width:0}});
}
function txt(x, y, s, size, color) {
  layout.annotations.push({xref:'paper', yref:'paper', x:PX(x), y:PY(y), text:s, showarrow:false,
    xanchor:'left', yanchor:'middle', font:{family:FONT, size:size, color:color || '#000'}});
}
function arrow(xh, y, len, color, w) {
  layout.annotations.push({xref:'paper', yref:'paper', x:PX(xh), y:PY(y), ax:len, ay:0, text:' ',
    font:{size:2}, showarrow:true, arrowhead:4, arrowsize:1.1, arrowwidth:w, arrowcolor:color, standoff:0, startstandoff:0});
}
// top legend
hline(1588, 1620, 177.5, 'rgba(0,0,0,0.15)', 4);
hline(1586, 1618, 174.3, '#148a14', 4);
txt(1644, 173, 'simulations', 37);
hline(1589, 1621, 266, 'rgba(0,0,0,0.15)', 5);
hline(1587, 1619, 262.5, '#000', 5);
txt(1644, 251.5, 'experiment', 37);
txt(1603, 408.5, 'centered', 62, '#595959');
txt(1602, 485, 'zoomed', 62, '#595959');
arrow(1525, 586, 40, 'rgba(0,0,0,0.2)', 4);
arrow(1523, 582, 40, '#000', 4);
txt(1563, 580, 'n: neutrons', 32);
arrow(1525, 635, 40, 'rgba(0,0,0,0.2)', 4);
arrow(1523, 631, 40, '#000', 4);
txt(1563, 628.5, 'z: protons (atomic number)', 32);
// bottom legend
hline(1482, 1514, 886.5, 'rgba(0,0,0,0.15)', 4);
hline(1480.4, 1511.9, 883.3, '#148a14', 4);
txt(1538, 880, 'simulations', 37);
layout.shapes.push({type:'circle', xref:'paper', yref:'paper', x0:PX(1483.7), x1:PX(1510.7), y0:PY(978.5), y1:PY(951.5), fillcolor:'#0b520b', line:{width:0}});
txt(1538, 958.5, 'UNEDF1', 37);
rect(1491, 1506.4, 1035, 1144, 'rgba(0,0,0,0.12)');
rect(1489, 1504.4, 1032.3, 1141, '#5cfcfc');
rect(1488, 1503.4, 1049, 1106.7, '#0000ee');
txt(1521, 1080, 'θ', 37);
txt(1584, 1080, '90% pred uncert', 37);
txt(1505, 1130, 'θ+e', 37);
// clipped title fragment at top edge
layout.shapes.push({type:'path', xref:'paper', yref:'paper',
  path:'M '+PX(1120)+','+PY(0)+' L '+PX(1134)+','+PY(0)+' L '+PX(1131)+','+PY(4.5)+' L '+PX(1117)+','+PY(4.5)+' Z',
  fillcolor:'#000', line:{width:0}});

Plotly.newPlot('chart', traces, layout, {displayModeBar:false, staticPlot:true});
</script></body></html>
